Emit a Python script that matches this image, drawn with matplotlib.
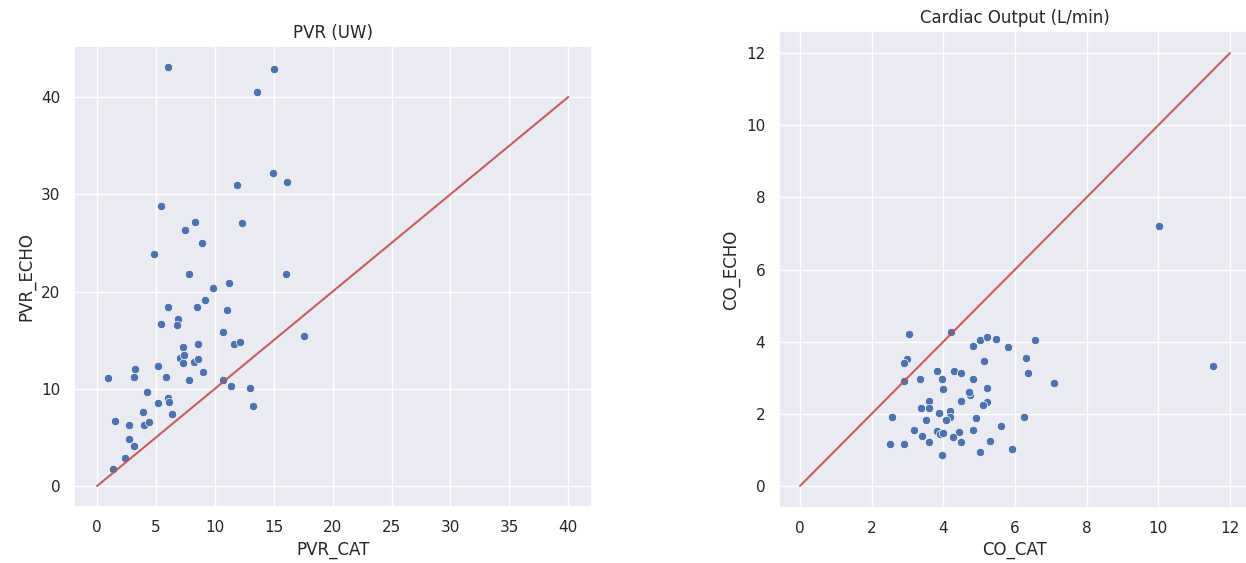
import numpy as np
import seaborn as sns
from matplotlib import pyplot as plt

sns.set()

# PVR (Wood units): catheter vs echo
pvr_cat = [6.0, 15.0, 13.6, 14.9, 16.1, 11.9, 5.4, 8.3, 7.5, 12.3,
           8.9, 4.8, 7.8, 16.0, 9.8, 11.2, 9.15, 6.0, 8.45, 11.0,
           6.9, 5.4, 6.8, 10.7, 17.6, 11.6, 12.15, 7.3, 8.6, 7.0,
           7.4, 7.3, 8.2, 8.6, 9.0, 5.2, 3.25, 3.1, 0.9, 5.85,
           7.8, 10.7, 11.4, 13.0, 13.2, 4.2, 6.0, 6.1, 5.2, 3.9,
           6.4, 1.5, 2.7, 4.0, 4.4, 2.7, 3.1, 2.4, 1.36]
pvr_echo = [43.1, 42.9, 40.5, 32.2, 31.3, 31.0, 28.8, 27.1, 26.3, 27.0,
            25.0, 23.9, 21.8, 21.8, 20.4, 20.9, 19.1, 18.4, 18.4, 18.1,
            17.2, 16.7, 16.6, 15.8, 15.4, 14.6, 14.85, 14.3, 14.6, 13.2,
            13.5, 12.6, 12.8, 13.1, 11.75, 12.3, 12.0, 11.2, 11.06, 11.2,
            10.9, 10.9, 10.3, 10.1, 8.2, 9.7, 9.1, 8.6, 8.5, 7.6,
            7.4, 6.7, 6.3, 6.3, 6.6, 4.8, 4.1, 2.9, 1.75]

# Cardiac output (L/min): catheter vs echo
co_cat = [3.04, 4.21, 4.82, 5.01, 5.22, 5.48, 5.8, 6.56, 3.0, 2.9,
          5.13, 6.31, 6.36, 7.1, 3.83, 4.31, 4.5, 2.89, 3.36, 3.95,
          4.82, 3.99, 5.22, 4.74, 4.73, 4.5, 5.22, 5.1, 3.6, 3.39,
          3.6, 3.87, 4.19, 4.19, 4.07, 2.57, 3.52, 4.9, 6.24, 5.62,
          3.19, 3.83, 3.9, 3.99, 4.43, 4.82, 3.4, 4.26, 3.6, 4.5,
          5.29, 2.5, 2.91, 5.93, 3.95, 5.01, 10.03, 11.53]
co_echo = [4.21, 4.26, 3.89, 4.05, 4.13, 4.08, 3.84, 4.05, 3.53, 3.41,
           3.45, 3.56, 3.12, 2.85, 3.2, 3.2, 3.12, 2.92, 2.97, 2.97,
           2.97, 2.68, 2.72, 2.52, 2.6, 2.36, 2.32, 2.24, 2.36, 2.15,
           2.15, 2.03, 2.08, 1.91, 1.83, 1.91, 1.83, 1.87, 1.91, 1.66,
           1.55, 1.52, 1.45, 1.46, 1.5, 1.55, 1.39, 1.35, 1.21, 1.21,
           1.26, 1.15, 1.15, 1.02, 0.86, 0.93, 7.21, 3.33]

pvr_max = 40
co_max = 12

fig = plt.figure(figsize=(12.46, 5.63), dpi=100)
ax1 = fig.add_axes([0.059, 0.0995, 0.416, 0.819])
ax2 = fig.add_axes([0.6248, 0.0984, 0.3796, 0.8458])

sns.scatterplot(x=pvr_cat, y=pvr_echo, ax=ax1)
ax1.plot([0, pvr_max], [0, pvr_max], 'r', lw=1.5, alpha=0.9)
ax1.set_title('PVR (UW)')
ax1.set_xlabel('PVR_CAT')
ax1.set_ylabel('PVR_ECHO')

sns.scatterplot(x=co_cat, y=co_echo, ax=ax2)
ax2.plot([0, co_max], [0, co_max], 'r', lw=1.5, alpha=0.9)
ax2.set_title('Cardiac Output (L/min)')
ax2.set_xlabel('CO_CAT')
ax2.set_ylabel('CO_ECHO')

fig.savefig('out.png', dpi=100)
